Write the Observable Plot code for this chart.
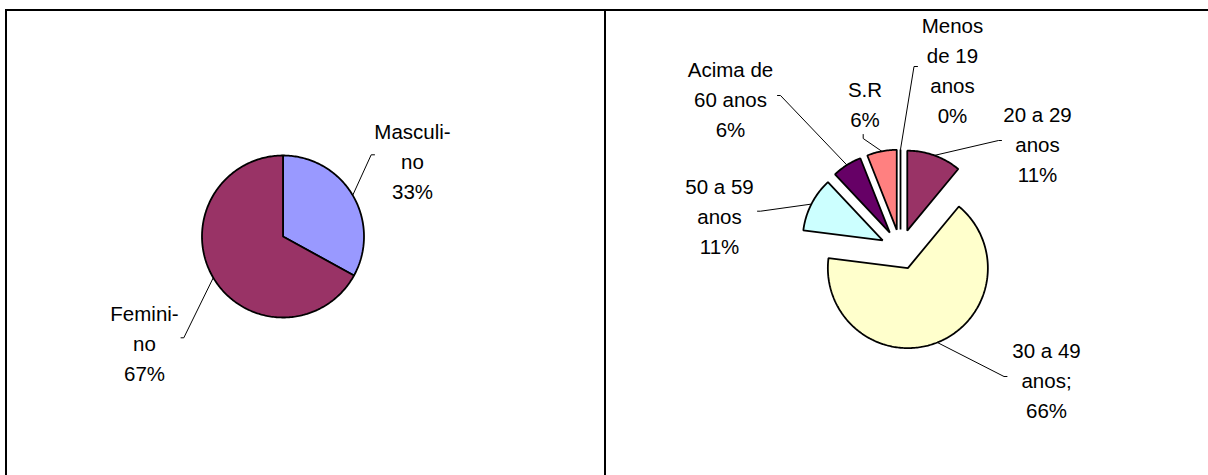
<!DOCTYPE html>
<html>
<head>
<meta charset="utf-8">
<script src="https://cdn.jsdelivr.net/npm/d3@7"></script>
<script src="https://cdn.jsdelivr.net/npm/@observablehq/plot@0.6"></script>
<style>
  html, body { margin: 0; padding: 0; background: #fff; }
  #wrap { position: relative; width: 1208px; height: 475px; overflow: hidden; background: #fff; }
  .frame { position: absolute; background: #000; }
  #chart { position: absolute; left: 0; top: 0; }
</style>
</head>
<body>
<div id="wrap">
  <div class="frame" style="left:5px;top:9px;width:1203px;height:2px"></div>
  <div class="frame" style="left:5px;top:9px;width:2px;height:466px"></div>
  <div class="frame" style="left:604px;top:9px;width:2px;height:466px"></div>
  <div id="chart"></div>
</div>
<script>
// ---------- DATA ----------
const sexoCategorias = ["Masculino", "Feminino"];
const sexoValores = [33, 67];
const sexoRotulos = [["Masculi-", "no"], ["Femini-", "no"]];
const sexoCores = ["#9999FF", "#993366"];

const idadeCategorias = ["Menos de 19 anos", "20 a 29 anos", "30 a 49 anos", "50 a 59 anos", "Acima de 60 anos", "S.R"];
const idadeValores = [0, 11, 66, 11, 6, 6];
const idadeRotulos = [["Menos", "de 19", "anos"], ["20 a 29", "anos"], ["30 a 49", "anos;"], ["50 a 59", "anos"], ["Acima de", "60 anos"], ["S.R"]];
const idadeCores = ["#9999FF", "#993366", "#FFFFCC", "#CCFFFF", "#660066", "#FF8080"];

// ---------- LAYOUT ----------
const W = 1208, H = 475;
const FONT = 20.5, LH = 30;
const pieSexo = { cx: 282.5, cy: 236, r: 81, explode: 0 };
const pieIdade = { cx: 900, cy: 249, r: 80, explode: 20 };
// label text centre x, first baseline; leader elbow and tick end
const layoutSexo = [
  { tx: 412, tb: 132, elbow: [370.7, 154.3], end: [374, 154.3] },
  { tx: 144, tb: 314, elbow: [183.3, 337.3], end: [180.5, 337.3] }
];
const layoutIdade = [
  { tx: 952, tb: 26, elbow: [913.5, 66], end: [917, 66] },
  { tx: 1037, tb: 115, elbow: [998, 140], end: [1001, 140] },
  { tx: 1046, tb: 351, elbow: [1003.5, 376], end: [1006.5, 376] },
  { tx: 719, tb: 187, elbow: [760, 210.7], end: [757, 210.7] },
  { tx: 730, tb: 70, elbow: [780, 95], end: [777, 95] },
  { tx: 864.5, tb: 90, elbow: [862.7, 138], end: [862.7, 134] }
];

function build(key, cats, values, colors, rotulos, cfg, layout) {
  const total = d3.sum(values);
  const polys = [], leaders = [], labels = [];
  let acc = 0;
  values.forEach((v, i) => {
    const a0 = acc / total * 2 * Math.PI; acc += v;
    const a1 = acc / total * 2 * Math.PI;
    const mid = (a0 + a1) / 2;
    const ox = cfg.cx + cfg.explode * Math.sin(mid);
    const oy = cfg.cy - cfg.explode * Math.cos(mid);
    const id = key + i;
    polys.push({ id, cat: cats[i], x: ox, y: oy, fill: colors[i] });
    const n = Math.max(1, Math.ceil((a1 - a0) / (Math.PI / 180)));
    for (let k = 0; k <= n; k++) {
      const t = a0 + (a1 - a0) * k / n;
      polys.push({ id, cat: cats[i], x: ox + cfg.r * Math.sin(t), y: oy - cfg.r * Math.cos(t), fill: colors[i] });
    }
    const L = layout[i];
    const rx = ox + cfg.r * Math.sin(mid), ry = oy - cfg.r * Math.cos(mid);
    leaders.push({ id, x: rx, y: ry }, { id, x: L.elbow[0], y: L.elbow[1] }, { id, x: L.end[0], y: L.end[1] });
    labels.push({ x: L.tx, y: L.tb - 0.71 * FONT, text: [...rotulos[i], `${v}%`].join("\n") });
  });
  return { polys, leaders, labels };
}

const a = build("s", sexoCategorias, sexoValores, sexoCores, sexoRotulos, pieSexo, layoutSexo);
const b = build("i", idadeCategorias, idadeValores, idadeCores, idadeRotulos, pieIdade, layoutIdade);

const chart = Plot.plot({
  width: W, height: H, margin: 0,
  x: { domain: [0, W], range: [0, W], axis: null },
  y: { domain: [0, H], range: [0, H], axis: null },
  color: { type: "identity" },
  style: { background: "transparent", fontFamily: "'Liberation Sans', Arial, sans-serif", overflow: "visible" },
  marks: [
    Plot.line([...a.leaders, ...b.leaders], { x: "x", y: "y", z: "id", stroke: "#000", strokeWidth: 1 }),
    Plot.line([...a.polys, ...b.polys], { x: "x", y: "y", z: "id", fill: "fill", stroke: "#000", strokeWidth: 1.8, curve: "linear-closed", strokeLinejoin: "miter" }),
    Plot.text([...a.labels, ...b.labels], { x: "x", y: "y", text: "text", textAnchor: "middle", lineAnchor: "top", lineHeight: LH / FONT, fontSize: FONT, fill: "#000" })
  ]
});
document.getElementById("chart").appendChild(chart);
</script>
</body>
</html>
